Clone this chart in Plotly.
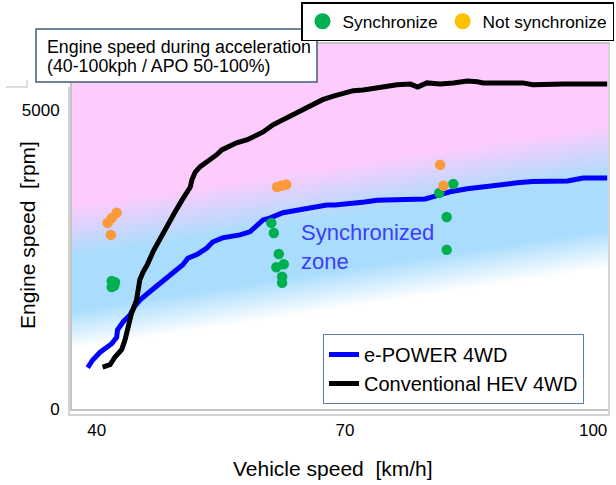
import numpy as np
import plotly.graph_objects as go

# Vehicle speed [km/h] / engine speed [rpm] traces during acceleration
epower_x = [38.9, 39.5, 40.4, 41.2, 41.8, 42.4, 42.5, 43.2, 44.0, 44.6, 45.2, 46.4, 47.4,
            48.5, 49.4, 50.4, 51.0, 52.1, 53.3, 54.0, 55.2, 57.3, 58.5, 59.4, 60.1, 60.9,
            61.8, 62.5, 63.7, 64.6, 65.8, 66.6, 67.8, 68.8, 70.6, 72.4, 73.9, 75.4, 76.7,
            78.7, 79.7, 80.7, 82.7, 84.8, 86.7, 88.8, 90.8, 92.7, 94.8, 96.9, 98.8, 101.7]
epower_rpm = [690, 820, 950, 1040, 1090, 1200, 1320, 1460, 1570, 1720, 1820, 1960, 2070,
              2210, 2290, 2410, 2520, 2580, 2690, 2790, 2860, 2910, 2960, 3080, 3160, 3190,
              3230, 3280, 3310, 3330, 3360, 3380, 3410, 3410, 3430, 3460, 3490, 3490, 3490,
              3490, 3510, 3550, 3630, 3680, 3710, 3760, 3780, 3800, 3810, 3810, 3860, 3860]

hev_x = [40.7, 41.6, 42.2, 43.0, 43.4, 43.8, 44.2, 44.8, 45.0, 45.2, 45.6, 46.1, 46.8,
         47.3, 47.9, 48.5, 49.4, 50.3, 50.9, 51.3, 51.5, 51.9, 52.5, 53.4, 54.5, 55.1,
         55.9, 56.9, 58.2, 58.9, 60.1, 61.3, 62.5, 63.7, 64.9, 66.1, 67.3, 68.6, 69.8,
         71.0, 72.2, 74.2, 76.3, 77.9, 78.8, 79.9, 81.5, 83.1, 84.8, 86.0, 86.7, 88.4,
         90.0, 91.5, 92.7, 94.4, 96.4, 98.8, 101.7]
hev_rpm = [700, 740, 870, 990, 1150, 1370, 1600, 1820, 1990, 2160, 2290, 2410, 2630,
           2760, 2910, 3040, 3280, 3490, 3610, 3710, 3830, 3960, 4050, 4130, 4250, 4330,
           4380, 4450, 4500, 4550, 4630, 4750, 4830, 4920, 5000, 5080, 5170, 5230, 5280,
           5320, 5330, 5380, 5420, 5430, 5380, 5450, 5430, 5450, 5480, 5470, 5450, 5450,
           5450, 5450, 5420, 5430, 5430, 5430, 5430]

# Engine-sound evaluation points
sync_x = [41.8, 42.2, 41.8, 42.1, 61.1, 61.4, 62.0, 61.7, 62.6, 62.4, 62.4, 83.1, 81.4, 82.3, 82.3]
sync_rpm = [2140, 2120, 2040, 2060, 3110, 2940, 2590, 2370, 2420, 2210, 2110, 3760, 3610, 3210, 2660]
nosync_x = [42.4, 41.8, 41.3, 41.7, 61.8, 62.3, 62.9, 81.5, 81.9]
nosync_rpm = [3280, 3190, 3110, 2910, 3710, 3730, 3750, 4080, 3730]

x_ticks = [40, 70, 100]
y_ticks = [0, 5000]

X_RANGE = [37.0, 101.8]
Y_RANGE = [0, 6100]
FONT = "Liberation Sans, Arial, sans-serif"

fig = go.Figure()

# Slanted background bands: white (low) -> light blue (synchronized zone) -> pink (high)
gx = np.linspace(X_RANGE[0], X_RANGE[1], 130)
gy = np.linspace(Y_RANGE[0], Y_RANGE[1], 245)
GX, GY = np.meshgrid(gx, gy)
band = GY - 21.0 * (GX - X_RANGE[0])
zmin, zmax = -1400.0, 6100.0


def stop(v):
    return (v - zmin) / (zmax - zmin)


white, blue, pink = "rgb(255,255,255)", "rgb(170,221,253)", "rgb(253,204,253)"
fig.add_trace(go.Heatmap(
    x=gx, y=gy, z=band, zmin=zmin, zmax=zmax, zsmooth="best", showscale=False,
    hoverinfo="skip", showlegend=False,
    colorscale=[[0, white], [stop(1000), white], [stop(1650), blue],
                [stop(2550), blue], [stop(3400), pink], [1, pink]],
))

fig.add_trace(go.Scatter(
    x=epower_x, y=epower_rpm, mode="lines", name="e-POWER 4WD",
    line=dict(color="#0000FF", width=5), legend="legend",
))
fig.add_trace(go.Scatter(
    x=hev_x, y=hev_rpm, mode="lines", name="Conventional HEV 4WD",
    line=dict(color="#000000", width=5), legend="legend",
))

fig.add_trace(go.Scatter(
    x=sync_x, y=sync_rpm, mode="markers", showlegend=False,
    marker=dict(color="#00B050", size=10.5, line=dict(width=0)),
))
fig.add_trace(go.Scatter(
    x=nosync_x, y=nosync_rpm, mode="markers", showlegend=False,
    marker=dict(color="#FA9A3A", size=10.5, line=dict(width=0)),
))

# Legend keys for the evaluation points
fig.add_trace(go.Scatter(
    x=[None], y=[None], mode="markers", name="Synchronize", legend="legend2",
    marker=dict(color="#00B050", size=16),
))
fig.add_trace(go.Scatter(
    x=[None], y=[None], mode="markers", name="Not synchronize", legend="legend2",
    marker=dict(color="#FFC000", size=16),
))

W, H = 616, 485
ML, MR, MT, MB = 72, 8, 44, 76
PW, PH = W - ML - MR, H - MT - MB


def px(xp):
    return (xp - ML) / PW


def py(yp):
    return (H - MB - yp) / PH


shapes = [
    # outer chart frame
    dict(type="path", xref="paper", yref="paper",
         path=f"M {px(69)},{py(87)} L {px(69)},{py(415)} L {px(609)},{py(415)} L {px(609)},{py(44)}",
         line=dict(color="#D4D4D4", width=2), layer="above"),
    dict(type="path", xref="paper", yref="paper",
         path=f"M {px(6)},{py(87)} L {px(27)},{py(87)} L {px(27)},{py(80)}",
         line=dict(color="#D4D4D4", width=1.5), layer="above"),
    # chart title box
    dict(type="rect", xref="paper", yref="paper",
         x0=px(36), x1=px(317), y0=py(82), y1=py(29),
         line=dict(color="#3F5D75", width=1.5), fillcolor="white", layer="above"),
]

annotations = [
    dict(xref="paper", yref="paper", x=px(45), y=py(46.5), xanchor="left", yanchor="middle",
         text="Engine speed during acceleration", showarrow=False,
         font=dict(family=FONT, size=17.8, color="black")),
    dict(xref="paper", yref="paper", x=px(45), y=py(66), xanchor="left", yanchor="middle",
         text="(40-100kph / APO 50-100%)", showarrow=False,
         font=dict(family=FONT, size=17.8, color="black")),
    dict(x=64.5, y=2700, xanchor="left", yanchor="middle", align="left",
         text="Synchronized<br>zone", showarrow=False,
         font=dict(family=FONT, size=22, color="#3C3CFF")),
    dict(xref="paper", yref="paper", x=px(28), y=py(235), textangle=-90,
         xanchor="center", yanchor="middle", text="Engine speed  [rpm]", showarrow=False,
         font=dict(family=FONT, size=21, color="black")),
    dict(xref="paper", yref="paper", x=px(333), y=py(468),
         xanchor="center", yanchor="middle", text="Vehicle speed  [km/h]", showarrow=False,
         font=dict(family=FONT, size=21, color="black")),
]

fig.update_layout(
    width=W, height=H,
    margin=dict(l=ML, r=MR, t=MT, b=MB, pad=0, autoexpand=False),
    paper_bgcolor="white", plot_bgcolor="white",
    font=dict(family=FONT, color="black"),
    shapes=shapes, annotations=annotations,
    xaxis=dict(range=X_RANGE, tickvals=x_ticks, showgrid=False, zeroline=False,
               showline=True, mirror=True, linecolor="#C4C4C4", linewidth=2,
               ticks="", ticklabelstandoff=5, tickfont=dict(size=17, family=FONT)),
    yaxis=dict(range=Y_RANGE, tickvals=y_ticks, showgrid=False, zeroline=False,
               showline=True, mirror=True, linecolor="#C4C4C4", linewidth=2,
               ticks="", ticklabelstandoff=7, tickfont=dict(size=17, family=FONT)),
    legend=dict(x=px(323), y=py(334), xanchor="left", yanchor="top",
                bgcolor="white", bordercolor="#5B7DB1", borderwidth=1,
                font=dict(size=20, family=FONT, color="black"), tracegroupgap=0),
    legend2=dict(orientation="h", x=px(614), y=py(2), xanchor="right", yanchor="top",
                 bgcolor="white", bordercolor="black", borderwidth=1.5,
                 font=dict(size=17.3, family=FONT, color="black")),
)

fig.write_html("out.html")
